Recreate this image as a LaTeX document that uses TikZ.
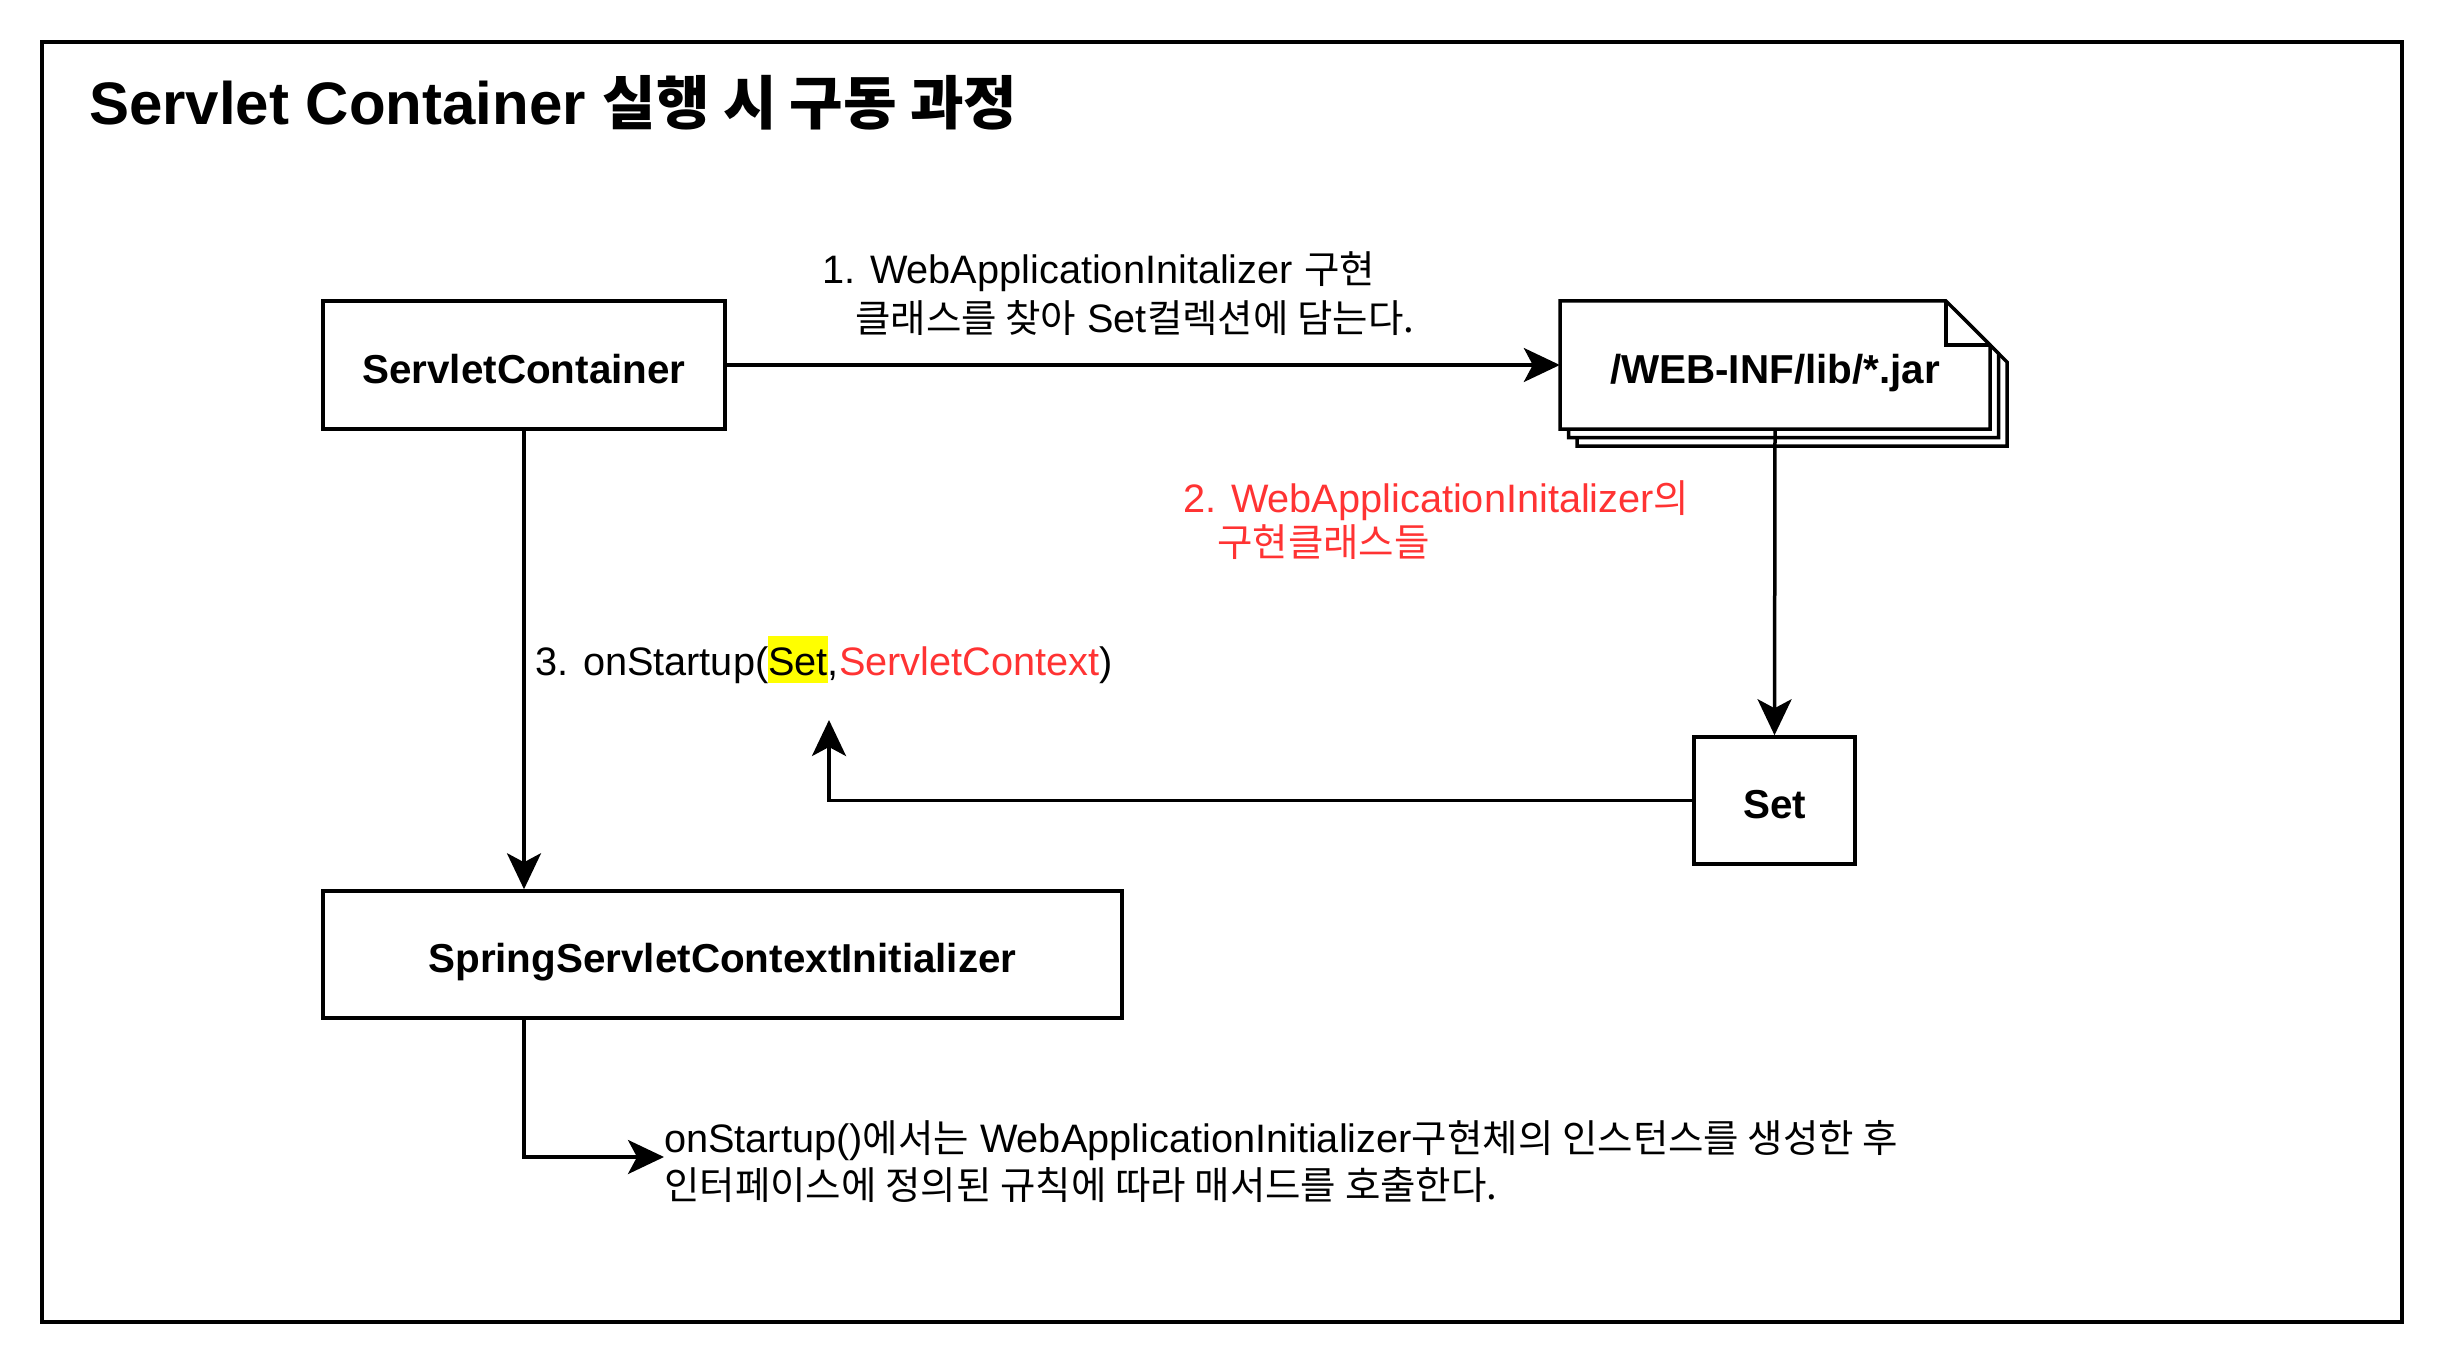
\documentclass[tikz,border=0pt]{standalone}
\usepackage{fontspec}
\setmainfont{Liberation Sans}
\newfontfamily\krf[Scale=0.97]{Noto Sans CJK KR}
\newcommand\kr[1]{{\krf #1}}
\usetikzlibrary{arrows.meta}
\definecolor{lblred}{HTML}{FF3333}
\definecolor{hl}{HTML}{FFFF00}
\tikzset{
  box/.style={draw, line width=3.5pt, fill=white, inner sep=0pt, text height=38.4pt, text depth=2pt, font=\fontsize{40.4}{46}\selectfont\bfseries},
  conn/.style={line width=3.5pt, -{Stealth[length=36pt,width=34pt,inset=9pt]}},
  lbl/.style={anchor=base west, inner sep=0pt, font=\fontsize{39.7}{46}\selectfont},
  sheet/.style={draw, line width=3.5pt, fill=white, line join=miter}
}
\begin{document}
\begin{tikzpicture}[x=1pt,y=-1pt]
\useasboundingbox (0,0) rectangle (2444,1364);
\fill[white] (0,0) rectangle (2444,1364);
\draw[line width=4pt] (42,42) rectangle (2402,1322);
\node[anchor=base west, inner sep=0pt, font=\fontsize{60}{70}\selectfont\bfseries] (title) at (89,125) {Servlet Container \kr{실행 시 구동 과정}};

% nodes
\node[box, minimum width=402pt, minimum height=128pt] (sc) at (524,365) {ServletContainer};
\node[box, minimum width=161pt, minimum height=127pt] (set) at (1774.5,800.5) {Set};
\node[box, minimum width=799pt, minimum height=127pt] (ssci) at (722.5,954.5) {SpringServletContextInitializer};

% document stack
\foreach \d in {17,8.5}{
  \draw[sheet] (1560+\d,301+\d) -- (1946+\d,301+\d) -- (1990+\d,345+\d) -- (1990+\d,429+\d) -- (1560+\d,429+\d) -- cycle;
}
\draw[sheet] (1560,301) -- (1946,301) -- (1990,345) -- (1990,429) -- (1560,429) -- cycle;
\draw[line width=3.5pt, line join=miter] (1946,301) -- (1946,345) -- (1990,345);
\node[draw=none, minimum width=430pt, minimum height=128pt, inner sep=0pt, text height=38.4pt, text depth=2pt, font=\fontsize{40.4}{46}\selectfont\bfseries] (jar) at (1775,365) {/WEB-INF/lib/*.jar};

% labels
\node[lbl] (l1a) at (822,284) {1. WebApplicationInitalizer \kr{구현}};
\node[lbl] (l1b) at (855,332) {\kr{클래스를 찾아} Set\kr{컬렉션에 담는다.}};
\node[lbl, text=lblred] (l2a) at (1183,512) {2. WebApplicationInitalizer\kr{의}};
\node[lbl, text=lblred] (l2b) at (1217,556) {\kr{구현클래스들}};
\node[lbl] (l3) at (535,675) {3. onStartup(\setlength{\fboxsep}{0pt}\colorbox{hl}{\rule[-8pt]{0pt}{47pt}Set},\textcolor{lblred}{ServletContext})};
\node[lbl] (n1) at (664,1152) {onStartup()\kr{에서는} WebApplicationInitializer\kr{구현체의 인스턴스를 생성한 후}};
\node[lbl] (n2) at (664,1199) {\kr{인터페이스에 정의된 규칙에 따라 매서드를 호출한다.}};

% connectors
\coordinate (up) at (829,720);
\coordinate (ntip) at (664,1157);
\draw[conn] (sc.east) -- (jar.west);
\draw[conn] (jar.south) -- (set.north);
\draw[conn] (set.west) -| (up);
\draw[conn] (sc.south) -- (sc.south |- ssci.north);
\draw[conn] (sc.south |- ssci.south) |- (ntip);
\end{tikzpicture}
\end{document}
